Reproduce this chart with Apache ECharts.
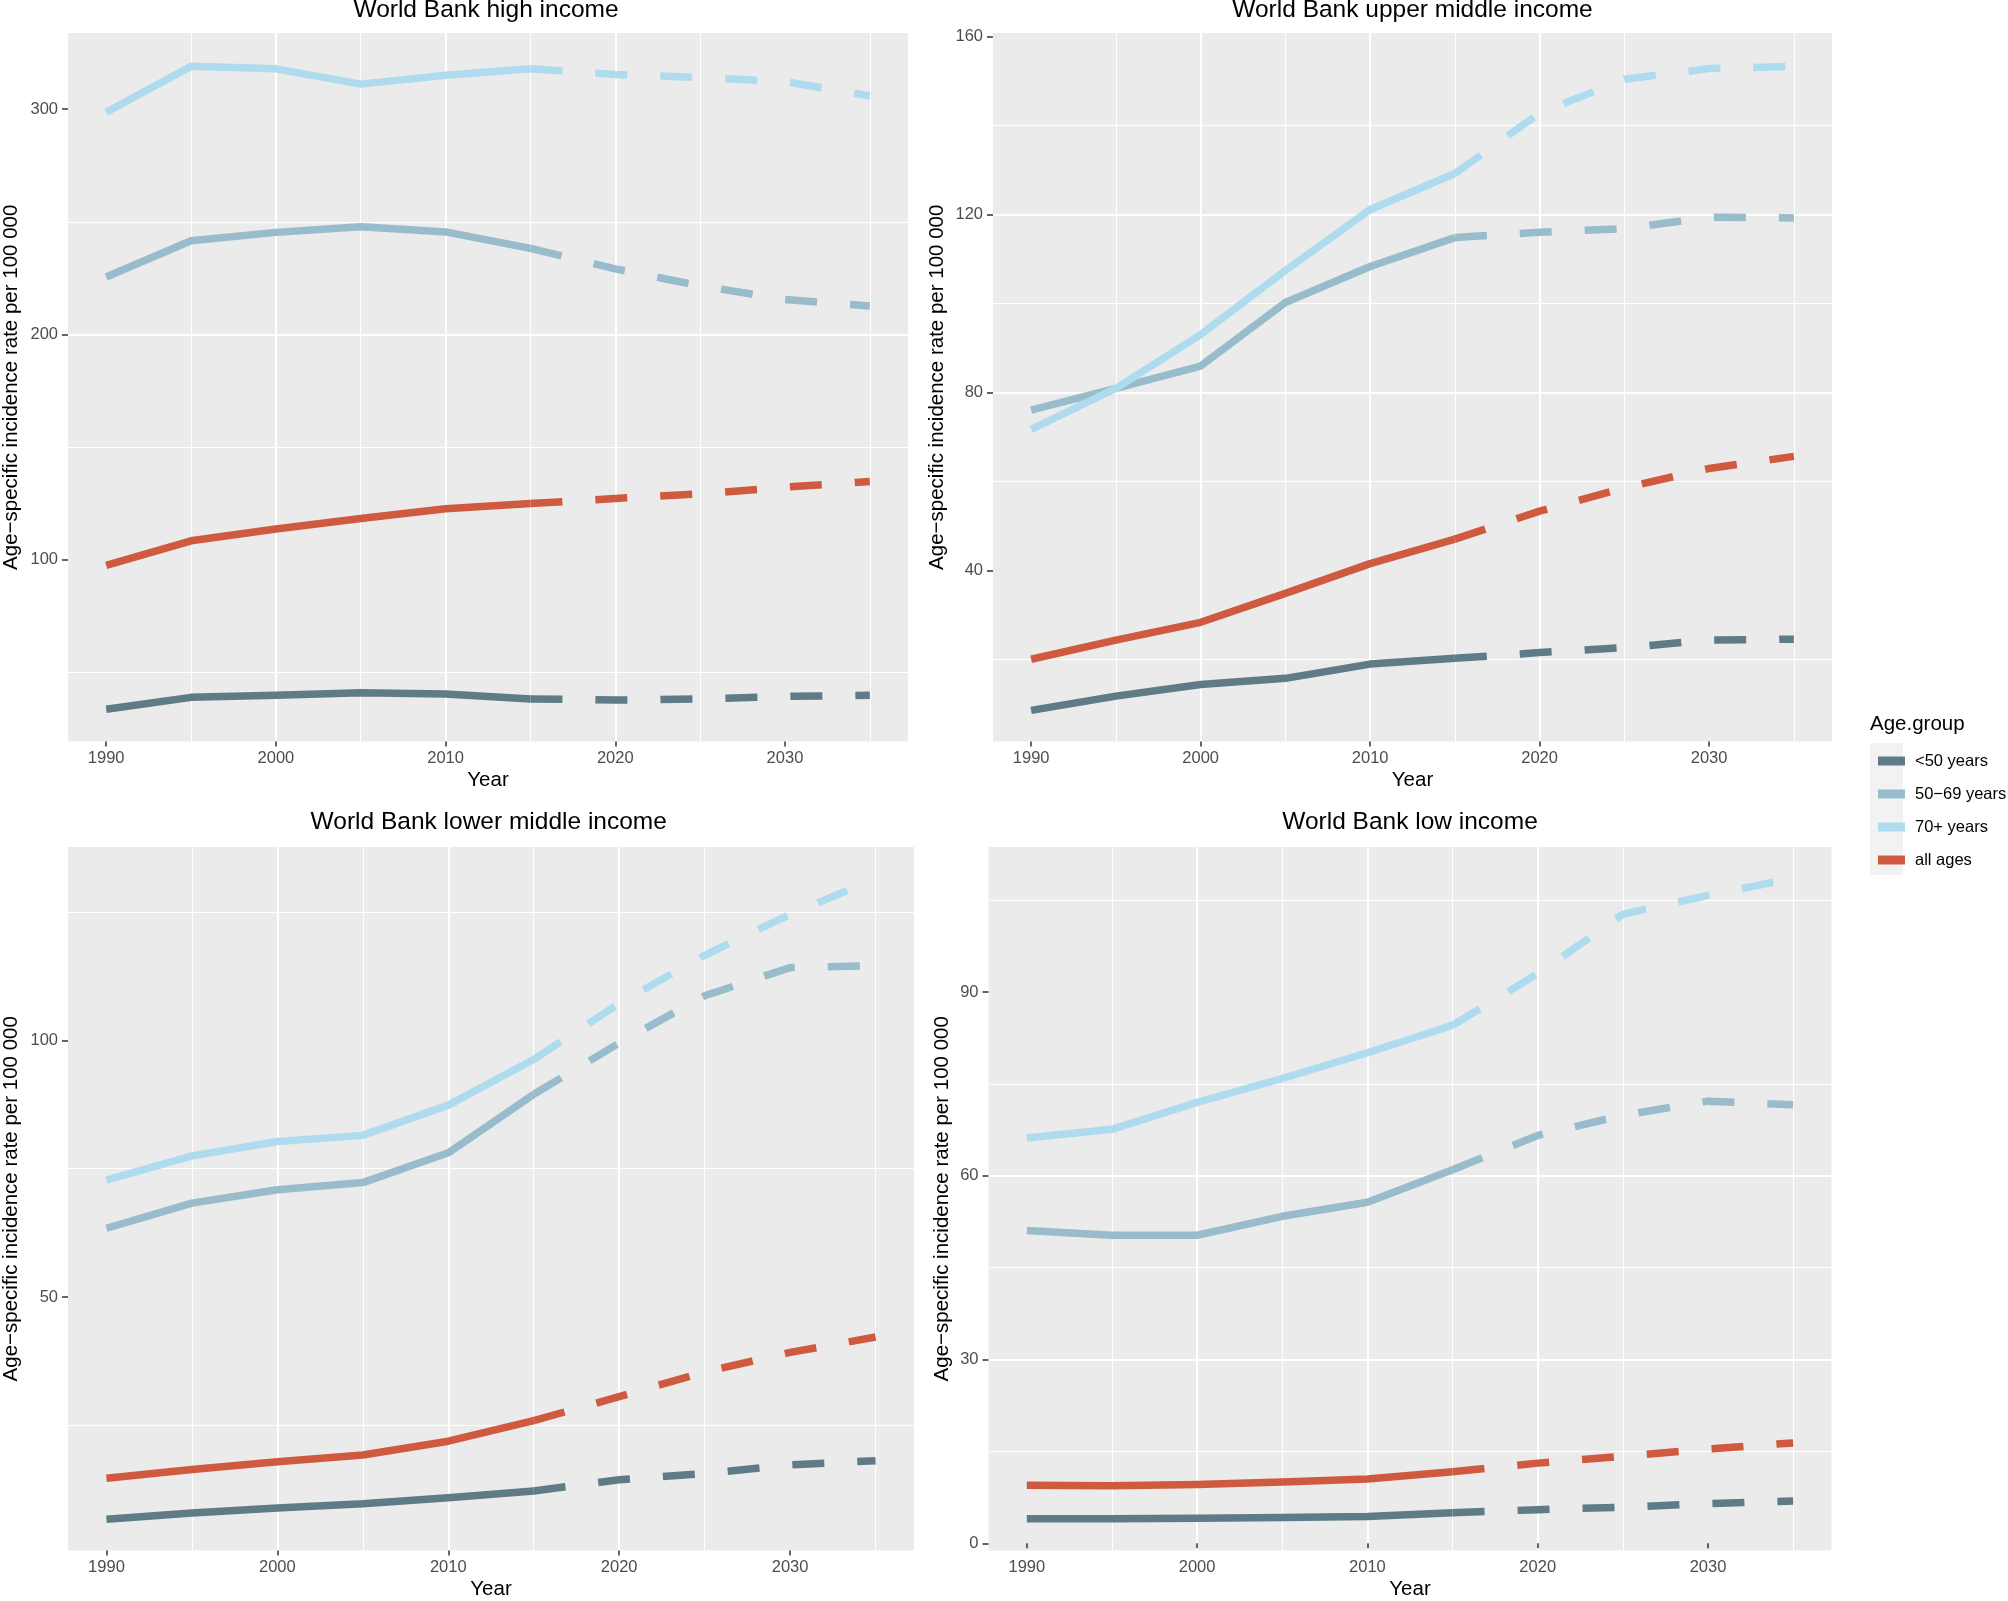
<!DOCTYPE html>
<html><head><meta charset="utf-8">
<script src="https://cdn.jsdelivr.net/npm/echarts@6/dist/echarts.min.js"></script>
<style>html,body{margin:0;padding:0;background:#fff}#chart{width:2008px;height:1601px}</style>
</head><body><div id="chart"></div>
<script>
// ---- data ----
const years = [1990, 1995, 2000, 2005, 2010, 2015, 2020, 2025, 2030, 2035];
const lastObservedIndex = 5; // 2015: solid up to here, dashed from here
const groupNames = ['<50 years', '50\u221269 years', '70+ years', 'all ages'];
const panelTitles = ['World Bank high income', 'World Bank upper middle income', 'World Bank lower middle income', 'World Bank low income'];
const xTicks = [1990, 2000, 2010, 2020, 2030];

const highU50 = [33.6, 38.9, 39.8, 40.9, 40.4, 38.2, 37.7, 38.2, 39.3, 39.8];
const high5069 = [225.5, 241.6, 245.3, 247.8, 245.5, 238.2, 229.1, 221.6, 215.5, 212.6];
const high70 = [298.6, 319.0, 317.9, 311.1, 315.0, 317.9, 315.4, 314.0, 312.2, 305.9];
const highAll = [97.5, 108.4, 113.6, 118.3, 122.6, 124.9, 127.2, 129.2, 132.2, 134.7];

const upperU50 = [8.5, 11.7, 14.3, 15.7, 18.9, 20.2, 21.5, 22.6, 24.3, 24.5];
const upper5069 = [76.0, 80.9, 85.9, 100.2, 108.3, 114.8, 116.0, 116.8, 119.4, 119.2];
const upper70 = [71.7, 80.9, 93.0, 107.4, 121.1, 129.2, 142.8, 150.4, 152.8, 153.3];
const upperAll = [20.0, 24.3, 28.3, 34.8, 41.5, 47.0, 53.3, 58.5, 62.9, 65.6];

const lowerU50 = [6.7, 7.9, 8.9, 9.7, 10.9, 12.2, 14.4, 15.6, 17.3, 18.1];
const lower5069 = [63.4, 68.3, 70.9, 72.3, 78.1, 89.5, 99.5, 108.7, 114.2, 114.6];
const lower70 = [72.8, 77.5, 80.3, 81.5, 87.4, 96.3, 107.2, 116.6, 124.6, 131.5];
const lowerAll = [14.7, 16.4, 17.9, 19.2, 21.9, 25.9, 30.6, 35.4, 39.2, 42.2];

const lowU50 = [4.0, 4.0, 4.1, 4.2, 4.4, 5.0, 5.5, 5.9, 6.5, 6.9];
const low5069 = [51.1, 50.3, 50.3, 53.4, 55.7, 61.0, 66.6, 69.9, 72.2, 71.6];
const low70 = [66.2, 67.6, 72.0, 75.9, 80.1, 84.6, 93.0, 102.7, 105.8, 108.6];
const lowAll = [9.5, 9.4, 9.6, 10.0, 10.5, 11.7, 13.1, 14.2, 15.4, 16.4];

const highYTicks = [100, 200, 300];
const upperYTicks = [40, 80, 120, 160];
const lowerYTicks = [50, 100];
const lowYTicks = [0, 30, 60, 90];

// ---- layout & style ----
const panelValues = [
  [highU50, high5069, high70, highAll],
  [upperU50, upper5069, upper70, upperAll],
  [lowerU50, lower5069, lower70, lowerAll],
  [lowU50, low5069, low70, lowAll]
];
const panelYTicks = [highYTicks, upperYTicks, lowerYTicks, lowYTicks];
const panelYRange = [[19.3, 333.8], [1.5, 160.8], [0.6, 137.7], [-1.17, 113.7]];
const panelYStep = [100, 40, 50, 30];
const grids = [
  {left: 64, top: 33, width: 844, height: 708.5},
  {left: 993, top: 33, width: 839, height: 708.5},
  {left: 63.5, top: 847, width: 850.5, height: 707.5},
  {left: 988.5, top: 847, width: 843, height: 707.5}
];
const yNameGap = [46, 45, 46, 36];
const titleY = [10, 10, 822, 822];
const colors = ['#5f7c86', '#98bccb', '#aedcee', '#cf5a3f'];
const FONT = '"Liberation Sans", Arial, Helvetica, sans-serif';
const fmt = v => String(v);

const option = {
  animation: false,
  backgroundColor: '#ffffff',
  grid: grids.map(g => Object.assign({show: true, backgroundColor: '#ebebeb', borderWidth: 0, containLabel: false}, g)),
  xAxis: grids.map((g, p) => ({
    type: 'value', gridIndex: p, min: 1987.75, max: 2037.25, minInterval: 10, maxInterval: 10,
    axisLine: {show: false},
    axisTick: {show: true, customValues: xTicks, length: 5, lineStyle: {color: '#333333', width: 1.5}},
    axisLabel: {customValues: xTicks, formatter: fmt, color: '#4d4d4d', fontSize: 16.5, margin: 8, fontFamily: FONT},
    splitLine: {show: true, showMinLine: false, showMaxLine: false, lineStyle: {color: '#ffffff', width: 2}},
    minorTick: {show: false, splitNumber: 2},
    minorSplitLine: {show: true, lineStyle: {color: '#ffffff', width: 1}},
    name: 'Year', nameLocation: 'middle', nameGap: 28.5,
    nameTextStyle: {color: '#000000', fontSize: 20.5, fontFamily: FONT}
  })),
  yAxis: grids.map((g, p) => ({
    type: 'value', gridIndex: p, min: panelYRange[p][0], max: panelYRange[p][1],
    minInterval: panelYStep[p], maxInterval: panelYStep[p],
    axisLine: {show: false},
    axisTick: {show: true, customValues: panelYTicks[p], length: 6, lineStyle: {color: '#333333', width: 1.5}},
    axisLabel: {customValues: panelYTicks[p], formatter: fmt, color: '#4d4d4d', fontSize: 16.5, margin: 10, fontFamily: FONT},
    splitLine: {show: true, showMinLine: false, showMaxLine: false, lineStyle: {color: '#ffffff', width: 2}},
    minorTick: {show: false, splitNumber: 2},
    minorSplitLine: {show: true, lineStyle: {color: '#ffffff', width: 1}},
    name: 'Age\u2212specific incidence rate per 100 000', nameLocation: 'middle', nameGap: yNameGap[p],
    nameTextStyle: {color: '#000000', fontSize: 20.5, fontFamily: FONT}
  })),
  legend: {
    data: groupNames, orient: 'vertical', left: 1873, top: 746,
    itemWidth: 27, itemHeight: 9, itemGap: 13, icon: 'rect', selectedMode: false,
    itemStyle: {borderWidth: 0},
    textStyle: {fontSize: 16.5, color: '#000000', fontFamily: FONT, lineHeight: 20, padding: [0, 0, 0, 5]}
  },
  graphic: [
    {type: 'rect', z: -1, shape: {x: 1870, y: 743, width: 33, height: 132}, style: {fill: '#f2f2f2'}, silent: true}
  ].concat(panelTitles.map((t, p) => ({
    type: 'text', x: grids[p].left + grids[p].width / 2, y: titleY[p], silent: true,
    style: {text: t, fill: '#000000', fontSize: 24.5, fontFamily: FONT, align: 'center', verticalAlign: 'middle'}
  }))).concat([
    {type: 'text', x: 1870, y: 724.5, silent: true,
     style: {text: 'Age.group', fill: '#000000', fontSize: 20.5, fontFamily: FONT, align: 'left', verticalAlign: 'middle'}}
  ]),
  series: []
};

panelValues.forEach((groups, p) => {
  groups.forEach((vals, g) => {
    const base = {
      type: 'line', name: groupNames[g], xAxisIndex: p, yAxisIndex: p,
      symbol: 'none', showSymbol: false, silent: true, emphasis: {disabled: true},
      itemStyle: {color: colors[g]}
    };
    option.series.push(Object.assign({}, base, {
      data: years.slice(0, lastObservedIndex + 1).map((y, i) => [y, vals[i]]),
      lineStyle: {color: colors[g], width: 7.5, type: 'solid', cap: 'butt', join: 'round'}
    }));
    option.series.push(Object.assign({}, base, {
      data: years.slice(lastObservedIndex).map((y, i) => [y, vals[lastObservedIndex + i]]),
      lineStyle: {color: colors[g], width: 7.5, type: [32, 33], cap: 'butt', join: 'round'}
    }));
  });
});

const chart = echarts.init(document.getElementById('chart'), null, {renderer: 'canvas'});
chart.setOption(option);
</script></body></html>
